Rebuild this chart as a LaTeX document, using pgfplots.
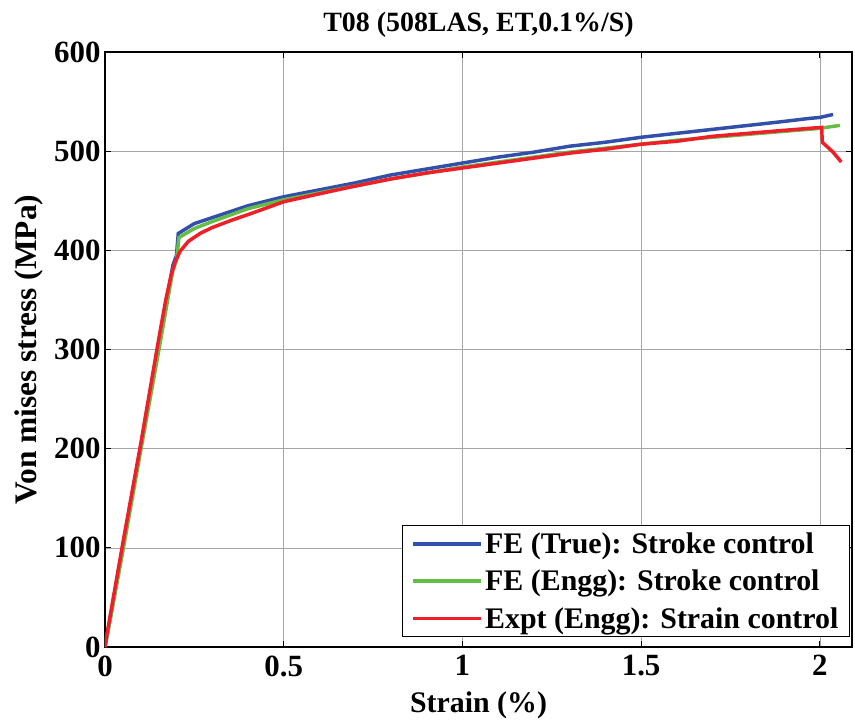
\documentclass[border=0pt]{standalone}
\usepackage{pgfplots}
\pgfplotsset{compat=1.18}
\usepackage{fontspec}
\setmainfont{Liberation Serif}
\definecolor{feblue}{RGB}{50,80,170}
\definecolor{fegreen}{RGB}{100,190,70}
\definecolor{exred}{RGB}{240,30,40}
\begin{document}
\begin{tikzpicture}
\useasboundingbox (-105bp,-74bp) rectangle (750bp,647bp);
\begin{axis}[
  at={(0,0)}, anchor=south west,
  scale only axis, width=747bp, height=595bp,
  xmin=0, xmax=2.09, ymin=0, ymax=600,
  xtick={0,0.5,1,1.5,2}, ytick={0,100,...,600},
  xticklabels={0,0.5,1,1.5,2},
  grid=major, grid style={gray!70, line width=0.6pt},
  axis line style={line width=1.2pt},
  tick style={black, line width=1pt}, tick align=inside,
  major tick length=6bp,
  /pgf/number format/assume math mode=true,
  tick label style={font=\fontsize{31}{34}\selectfont\bfseries},
  yticklabel style={xshift=-1bp},
  xticklabel style={yshift=-5bp},
  xlabel={Strain (\%)},
  ylabel={Von mises stress (MPa)},
  xlabel style={font=\fontsize{30}{34}\selectfont\bfseries, yshift=-8bp},
  ylabel style={font=\fontsize{31.5}{34}\selectfont\bfseries, yshift=4bp},
  title={T08 (508LAS, ET,0.1\%/S)},
  title style={font=\fontsize{28}{32}\selectfont\bfseries, yshift=5bp},
  legend style={at={(0.997,0.017)}, anchor=south east, draw=black, line width=0.8pt,
    font=\fontsize{30}{34}\selectfont\bfseries, row sep=11bp, inner xsep=9bp, inner ysep=5bp},
  legend cell align=left,
  legend image code/.code={\draw[#1, line width=3.5pt] (0bp,0bp) -- (68bp,0bp);},
]
\addplot[feblue, line width=3.5pt] coordinates {
(0,0) (0.02,40) (0.05,100) (0.1,202) (0.15,303) (0.19,385) (0.20,395) (0.205,417)
(0.25,427) (0.3,433) (0.35,439) (0.4,445) (0.5,454) (0.6,461) (0.7,468) (0.8,476)
(0.9,482) (1.0,488) (1.1,494) (1.2,499) (1.3,505) (1.4,509) (1.5,514) (1.6,518)
(1.7,522) (1.8,526) (1.9,530) (1.97,533) (2.0,534) (2.037,537)
};
\addlegendentry{FE (True): Stroke control}
\addplot[fegreen, line width=3.5pt] coordinates {
(0,0) (0.02,38) (0.05,97) (0.1,198) (0.15,298) (0.19,380) (0.20,390) (0.207,413)
(0.25,422) (0.3,429) (0.4,442) (0.5,451) (0.6,458) (0.7,465) (0.8,472) (0.9,478)
(1.0,484) (1.1,489) (1.2,494) (1.3,499) (1.4,503) (1.5,507) (1.6,511) (1.7,514)
(1.8,517) (1.9,520) (2.0,523) (2.056,526)
};
\addlegendentry{FE (Engg): Stroke control}
\addplot[exred, line width=3.5pt] coordinates {
(0,0) (0.005,12) (0.05,105) (0.1,205) (0.15,310) (0.17,350) (0.185,375) (0.196,388)
(0.21,399) (0.233,409) (0.266,417) (0.3,423) (0.359,431) (0.4,436) (0.5,449)
(0.6,457) (0.676,463) (0.8,472) (0.9,478) (1.0,483) (1.1,488) (1.2,493) (1.3,498)
(1.4,502) (1.5,507) (1.6,510) (1.66,513) (1.7,515) (1.8,518) (1.9,521) (1.97,523)
(2.005,524) (2.007,509) (2.037,499) (2.06,489)
};
\addlegendentry{Expt (Engg): Strain control}
\end{axis}
\end{tikzpicture}
\end{document}
